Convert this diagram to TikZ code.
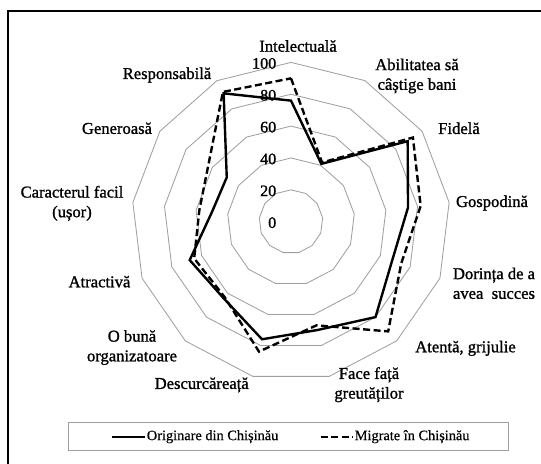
\documentclass[tikz,border=0pt]{standalone}
\usepackage{fontspec}
\setmainfont{Liberation Serif}
\newfontfamily\lblfont[FakeBold=1.2]{Liberation Serif}
\newfontfamily\legfont[FakeBold=0.5]{Liberation Serif}
\usetikzlibrary{positioning}
\tikzset{
  ring/.style={draw=gray!75, line width=0.6pt},
  orig/.style={line width=1.7pt},
  migr/.style={line width=1.7pt, dash pattern=on 5pt off 2.5pt},
  lbl/.style={font=\lblfont\fontsize{11.8}{14}\selectfont, align=center, inner sep=0pt},
  val/.style={font=\lblfont\fontsize{11.4}{13}\selectfont, anchor=east, inner sep=0pt},
  leg/.style={font=\legfont\fontsize{10.2}{12}\selectfont, anchor=west, inner sep=0pt},
}

\begin{document}
\begin{tikzpicture}[x=0.025cm,y=0.025cm]
	\useasboundingbox (-291,-241.3) rectangle (250,221.7);
	\draw[line width=1.4pt] (-282.7,-250) -- (-282.7,210.7) -- (260,210.7);
	% rings 20..100
	\foreach \r in {1,...,5}
	  \draw[ring] (90:31.86*\r) \foreach \k in {1,...,12}{ -- ({90-360/13*\k}:31.86*\r)} -- cycle;
	\foreach \r [count=\i from 0] in {0,20,40,60,80,100}
	  \node[val] (v\r) at (-14.5,31.86*\i-1) {\r};
	% data
	\foreach \v [count=\k from 0] in {76,41,89,74,68,80,70,76,64,68,50,49,91}
	  \coordinate (o\k) at ({90-360/13*\k}:1.593*\v);
	\foreach \v [count=\k from 0] in {90,42,93,82,74,92,67,84,63,65,58,63,92}
	  \coordinate (m\k) at ({90-360/13*\k}:1.593*\v);
	\draw[migr] (m0) \foreach \k in {1,...,12}{ -- (m\k)} -- cycle;
	\draw[orig] (o0) \foreach \k in {1,...,12}{ -- (o\k)} -- cycle;
	% axis labels
	\node[lbl] (intel) at (7,175.7) {Intelectuală};
	\node[lbl] (abil) at (126,145.7) {Abilitatea să\\câștige bani};
	\node[lbl] (fid) at (168,93.4) {Fidelă};
	\node[lbl] (gosp) at (201,18.7) {Gospodină};
	\node[lbl] (dor) at (203,-61.6) {Dorința de a\\avea\ \ succes};
	\node[lbl] (atent) at (174.5,-126.6) {Atentă, grijulie};
	\node[lbl] (face) at (78,-163) {Face față\\greutăților};
	\node[lbl] (desc) at (-89.3,-163.3) {Descurcăreață};
	\node[lbl] (org) at (-159,-125.8) {O bună\\organizatoare};
	\node[lbl] (atr) at (-191.5,-60) {Atractivă};
	\node[lbl] (car) at (-219,18.4) {Caracterul facil\\(ușor)};
	\node[lbl] (gen) at (-174,93.4) {Generoasă};
	\node[lbl] (resp) at (-124,146.7) {Responsabilă};
	% legend
	\draw[gray!75, line width=0.7pt] (-222.7,-228.6) rectangle (217,-201);
	\node[leg] (origtxt) at (-144.4,-215) {Originare din Chișinău};
	\node[leg] (migrtxt) at (63.5,-215) {Migrate în Chișinău};
	\coordinate (origkey) at (-179,-215);
	\coordinate (migrkey) at (29.7,-215);
	\draw[orig] (origkey) -- ([xshift=-1pt]origtxt.west);
	\draw[migr] (migrkey) -- ([xshift=-1pt]migrtxt.west);
\end{tikzpicture}
\end{document}
